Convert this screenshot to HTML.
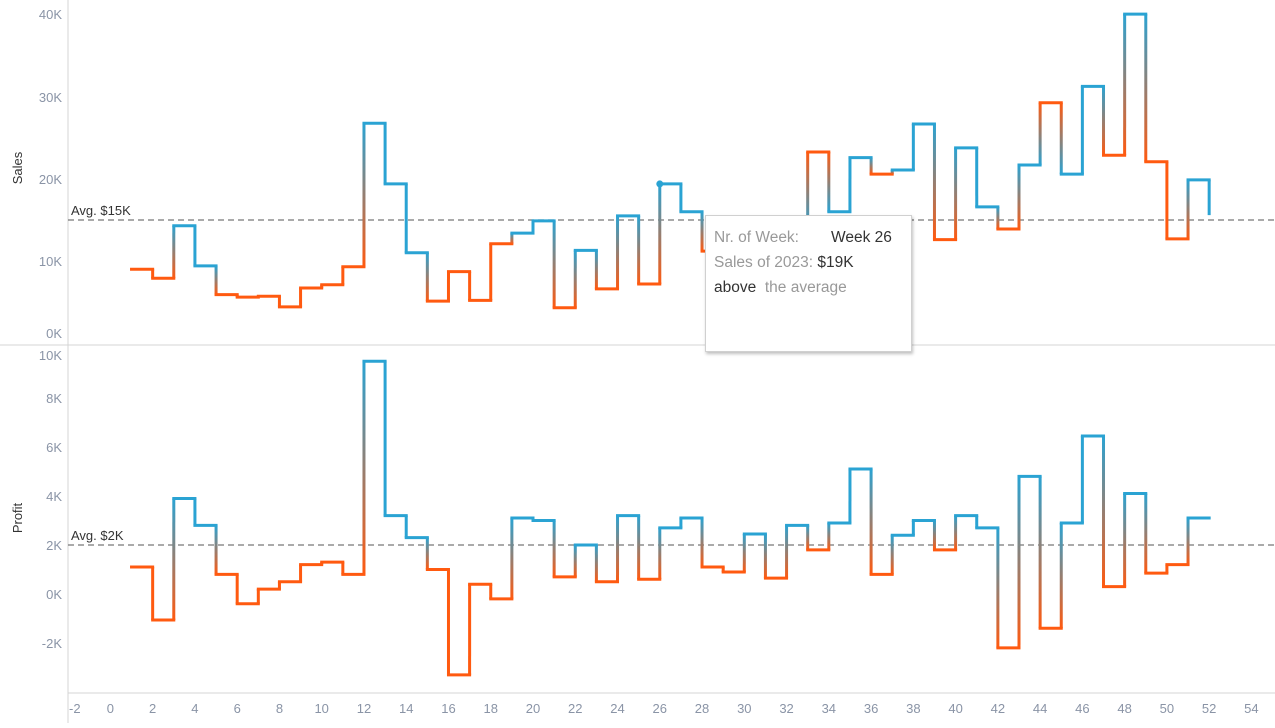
<!DOCTYPE html>
<html><head><meta charset="utf-8">
<style>
html,body{margin:0;padding:0;background:#fff;}
body{width:1275px;height:723px;overflow:hidden;position:relative;font-family:"Liberation Sans",sans-serif;}
svg text{font-family:"Liberation Sans",sans-serif;}
#tooltip{position:absolute;left:705px;top:215px;width:207px;height:137px;background:#fff;border:1px solid #d0d0d0;box-shadow:1px 2px 3px rgba(0,0,0,0.25);font-size:15.5px;line-height:25px;padding:9px 0 0 8px;box-sizing:border-box;color:#333;}
.lbl{color:#999;}
</style></head><body>
<svg id="chart" width="1275" height="723" xmlns="http://www.w3.org/2000/svg"></svg>
<div id="tooltip">
<div><span class="lbl">Nr. of Week:</span><span style="position:absolute;left:125px">Week 26</span></div>
<div><span class="lbl">Sales of 2023:</span> <span>$19K</span></div>
<div><span>above</span> <span class="lbl">&nbsp;the average</span></div>
</div>
<script>
const weeks = [1,2,3,4,5,6,7,8,9,10,11,12,13,14,15,16,17,18,19,20,21,22,23,24,25,26,27,28,29,30,31,32,33,34,35,36,37,38,39,40,41,42,43,44,45,46,47,48,49,50,51,52];
const sales = [9.0,7.9,14.3,9.4,5.9,5.6,5.7,4.4,6.7,7.1,9.3,26.8,19.4,11.0,5.1,8.7,5.2,12.1,13.4,14.9,4.3,11.3,6.6,15.5,7.2,19.4,16.0,11.2,10.0,12.0,9.0,14.0,23.3,16.0,22.6,20.6,21.1,26.7,12.6,23.8,16.6,13.9,21.7,29.3,20.6,31.3,22.9,40.1,22.1,12.7,19.9,15.6];
const profit = [1.1,-1.06,3.9,2.8,0.8,-0.4,0.2,0.5,1.2,1.3,0.8,9.5,3.2,2.3,1.0,-3.3,0.4,-0.2,3.1,3.0,0.7,2.0,0.5,3.2,0.6,2.7,3.1,1.1,0.9,2.45,0.65,2.8,1.8,2.9,5.1,0.8,2.4,3.0,1.8,3.2,2.7,-2.2,4.8,-1.4,2.9,6.45,0.3,4.1,0.85,1.2,3.1,3.1];
const salesAvg = 15;
const profitAvg = 2;
const xTicks = [-2,0,2,4,6,8,10,12,14,16,18,20,22,24,26,28,30,32,34,36,38,40,42,44,46,48,50,52,54];
const salesTicks = [0,10,20,30,40];
const profitTicks = [-2,0,2,4,6,8,10];

const NS='http://www.w3.org/2000/svg';
const svg=document.getElementById('chart');
const BLUE='#2aa3d3', ORANGE='#ff5a10';
const x = v => 110.4 + 21.13*v;
const ys = v => 343 - 8.2*v;
const yp = v => 594 - 24.5*v;
function mk(tag, attrs, parent){const e=document.createElementNS(NS,tag);for(const k in attrs)e.setAttribute(k,attrs[k]);(parent||svg).appendChild(e);return e;}
const defs=mk('defs',{});
let e;
e=mk('line',{x1:68,y1:0,x2:68,y2:723,stroke:'#d4d4d4','stroke-width':1});


e=mk('line',{x1:0,y1:345,x2:1275,y2:345,stroke:'#d4d4d4','stroke-width':1});


e=mk('line',{x1:68,y1:693,x2:1275,y2:693,stroke:'#d4d4d4','stroke-width':1});


salesTicks.forEach(t=>{let yy=ys(t)+5; if(t===0) yy=338; if(t===40) yy=19;
 const tx=mk('text',{x:62,y:yy,'text-anchor':'end','font-size':13,fill:'#8a94a6'}); tx.textContent=t+'K';
 
 });
profitTicks.forEach(t=>{let yy=yp(t)+5; if(t===10) yy=360;
 const tx=mk('text',{x:62,y:yy,'text-anchor':'end','font-size':13,fill:'#8a94a6'}); tx.textContent=t+'K';
 
 });
xTicks.forEach(t=>{const clip=x(t)<80;
 const tx=mk('text',{x:clip?69:x(t),y:713,'text-anchor':clip?'start':'middle','font-size':13,fill:'#8a94a6'}); tx.textContent=t;
 
 });
e=mk('text',{x:0,y:0,transform:'translate(22,168) rotate(-90)','text-anchor':'middle','font-size':13,fill:'#333'});e.textContent='Sales';


e=mk('text',{x:0,y:0,transform:'translate(22,518) rotate(-90)','text-anchor':'middle','font-size':13,fill:'#333'});e.textContent='Profit';


function avgLine(yv,label,name){
 const l=mk('line',{x1:68,y1:yv,x2:1275,y2:yv,stroke:'#777','stroke-width':1.3,'stroke-dasharray':'6,4'});
 
 
 const t=mk('text',{x:71,y:yv-5,'font-size':13,fill:'#333'});t.textContent=label;
 
 
}
avgLine(ys(salesAvg),'Avg. $15K','sales-average');
avgLine(yp(profitAvg),'Avg. $2K','profit-average');
let gid=0;
// colour is by profit vs profit average in both panels
const colOf = i => profit[i]>=profitAvg?BLUE:ORANGE;
function series(vals,yf,name){
 const g=mk('g',{});
 
 
 for(let i=0;i<vals.length;i++){
  const w=weeks[i], v=vals[i], col=colOf(i);
  if(i<vals.length-1){
   const h=mk('line',{x1:x(w),y1:yf(v),x2:x(w+1),y2:yf(v),stroke:col,'stroke-width':3,'stroke-linecap':'square'},g);
   
   
   const nv=vals[i+1], ncol=colOf(i+1);
   const id='gr'+(gid++);
   const gr=mk('linearGradient',{id:id,gradientUnits:'userSpaceOnUse',x1:0,x2:0,y1:yf(v),y2:yf(nv)},defs);
   mk('stop',{offset:'0','stop-color':col},gr);
   mk('stop',{offset:'1','stop-color':ncol},gr);
   const vl=mk('line',{x1:x(w+1),y1:yf(v),x2:x(w+1)+0.01,y2:yf(nv),stroke:'url(#'+id+')','stroke-width':3},g);
   
   
  }
 }
}
series(sales,ys,'sales');
series(profit,yp,'profit');
const dot=mk('circle',{cx:x(26),cy:ys(sales[25]),r:3.5,fill:BLUE});


</script>
</body></html>
